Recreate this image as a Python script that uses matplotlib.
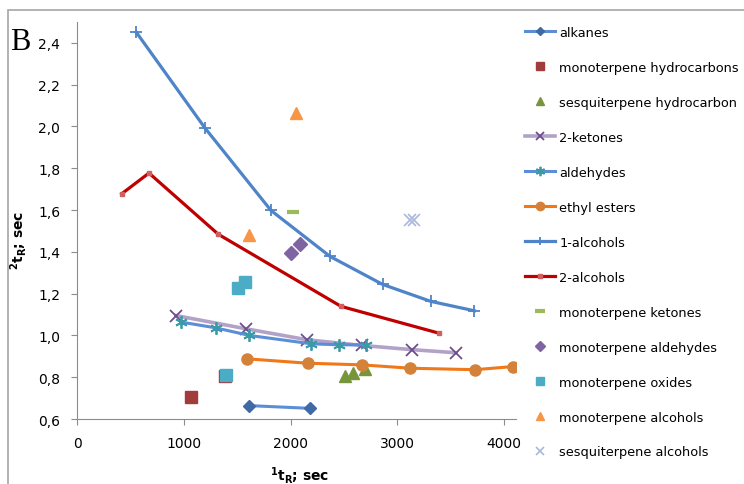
import matplotlib
matplotlib.use('Agg')
import matplotlib.pyplot as plt
from matplotlib.patches import Rectangle
from matplotlib.ticker import FuncFormatter

# данные (1tR, 2tR)
alk_x = [1613, 2182]
alk_y = [0.664, 0.651]
mh_x = [1067, 1383]
mh_y = [0.704, 0.806]
sh_x = [2509, 2581, 2697]
sh_y = [0.808, 0.821, 0.840]
ket_x = [927, 1579, 2157, 2671, 3134, 3549]
ket_y = [1.095, 1.032, 0.979, 0.952, 0.932, 0.917]
ald_x = [974, 1301, 1613, 2191, 2456, 2706]
ald_y = [1.064, 1.036, 1.000, 0.960, 0.955, 0.955]
est_x = [1592, 2160, 2671, 3121, 3727, 4082]
est_y = [0.888, 0.867, 0.859, 0.843, 0.836, 0.851]
alc1_x = [555, 1196, 1816, 2369, 2862, 3312, 3720]
alc1_y = [2.451, 1.994, 1.598, 1.378, 1.244, 1.163, 1.118]
alc2_x = [419, 674, 1323, 2472, 3387]
alc2_y = [1.678, 1.777, 1.484, 1.139, 1.011]
mk_x = [2019]
mk_y = [1.591]
ma_x = [2004, 2088]
ma_y = [1.395, 1.439]
mo_x = [1395, 1507, 1570]
mo_y = [0.811, 1.227, 1.256]
malc_x = [2048, 1613]
malc_y = [2.063, 1.482]
salc_x = [3118, 3155]
salc_y = [1.554, 1.554]

fig = plt.figure(figsize=(7.44, 4.85), dpi=100)
ax = fig.add_axes([77 / 744, 1 - 420 / 485, (516 - 77) / 744, (420 - 23) / 485])

# рамка вокруг диаграммы
fig.patches.append(Rectangle((8 / 744, -0.1), 1.1, 1 - 11 / 485 + 0.1, transform=fig.transFigure,
                             fill=False, edgecolor='#a6a6a6', linewidth=1.2))

ax.plot(alk_x, alk_y, '-', color='#5b8ed6', lw=2.2, marker='D', ms=6,
        mfc='#3f6aa6', mec='#3f6aa6', label='alkanes')
ax.plot(mh_x, mh_y, 's', color='#a03c3a', ms=8, ls='none', label='monoterpene hydrocarbons')
ax.plot(sh_x, sh_y, '^', color='#77963c', ms=8, ls='none', label='sesquiterpene hydrocarbon')
ax.plot(ket_x, ket_y, '-', color='#b3a2c7', lw=2.6, marker='x', ms=8, mew=1.3,
        mec='#6e4d8c', label='2-ketones')
ax.plot(ald_x, ald_y, '-', color='#5b8ed6', lw=2.2, marker=(6, 2, 0), ms=9, mew=1.3,
        mec='#3a9aa8', label='aldehydes')
ax.plot(est_x, est_y, '-', color='#f07818', lw=2.2, marker='o', ms=8,
        mfc='#d4823a', mec='#d4823a', label='ethyl esters')
ax.plot(alc1_x, alc1_y, '-', color='#4f84c8', lw=2.3, marker='+', ms=8, mew=1.3,
        mec='#4f84c8', label='1-alcohols')
ax.plot(alc2_x, alc2_y, '-', color='#c00000', lw=2.3, marker='s', ms=3.5,
        mfc='#d06060', mec='#d06060', label='2-alcohols')
ax.plot(mk_x, mk_y, '_', color='#9bbb59', ms=9, mew=3, ls='none', label='monoterpene ketones')
ax.plot(ma_x, ma_y, 'D', color='#8064a2', ms=7, ls='none', label='monoterpene aldehydes')
ax.plot(mo_x, mo_y, 's', color='#4bacc6', ms=8, ls='none', label='monoterpene oxides')
ax.plot(malc_x, malc_y, '^', color='#f79646', ms=8, ls='none', label='monoterpene alcohols')
ax.plot(salc_x, salc_y, 'x', color='#a9b8dc', ms=8, mew=1.2, ls='none', label='sesquiterpene alcohols')

ax.set_xlim(0, 4110)
ax.set_ylim(0.6, 2.5)
ax.set_xticks([0, 1000, 2000, 3000, 4000])
ax.set_yticks([0.6, 0.8, 1.0, 1.2, 1.4, 1.6, 1.8, 2.0, 2.2, 2.4])
ax.yaxis.set_major_formatter(FuncFormatter(lambda v, p: f'{v:.1f}'.replace('.', ',')))
for s in ['top', 'right']:
    ax.spines[s].set_visible(False)
for s in ['left', 'bottom']:
    ax.spines[s].set_color('#8c8c8c')
ax.tick_params(direction='out', length=4, color='#8c8c8c', labelsize=10, pad=8)

ax.set_xlabel(r'$^{\mathbf{1}}\mathbf{t}_{\mathbf{R}}$; sec', fontweight='bold', fontsize=10)
ax.set_ylabel(r'$^{\mathbf{2}}\mathbf{t}_{\mathbf{R}}$; sec', fontweight='bold', fontsize=10)
ax.xaxis.set_label_coords((300 - 77) / 439, -(465 - 420) / 397)
ax.yaxis.set_label_coords(-(77 - 29) / 439, (420 - 240) / 397)

fig.text(10 / 744, 1 - 50 / 485, 'B', family='Liberation Serif', fontsize=22)

ax.legend(loc='upper left', bbox_to_anchor=(525 / 744, 1 - 27 / 485), bbox_transform=fig.transFigure,
          frameon=False, fontsize=9.3, handlelength=2.35, handletextpad=0.3, labelspacing=1.7,
          borderaxespad=0, borderpad=0, markerscale=0.75)

fig.savefig('out.png', dpi=100)
